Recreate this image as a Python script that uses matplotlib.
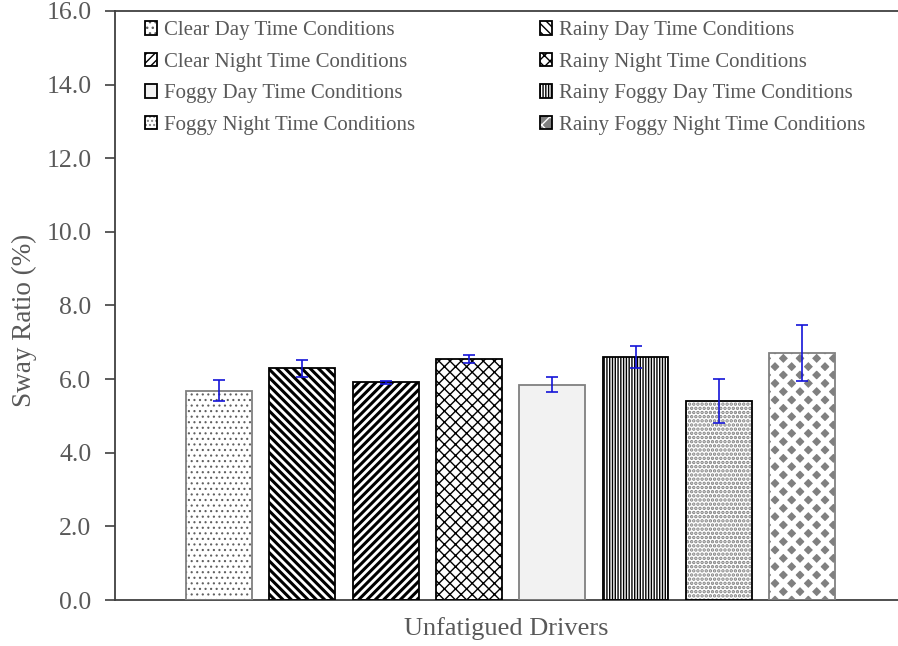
#sway ratio of unfatigued drivers under different weather/light conditions

import numpy
import matplotlib
matplotlib.use('Agg')
import matplotlib.pyplot as plt
from matplotlib.patches import Patch

# data
conditions = ['Clear Day Time Conditions', 'Rainy Day Time Conditions',
              'Clear Night Time Conditions', 'Rainy Night Time Conditions',
              'Foggy Day Time Conditions', 'Rainy Foggy Day Time Conditions',
              'Foggy Night Time Conditions', 'Rainy Foggy Night Time Conditions']
sway_ratio = [5.69, 6.29, 5.91, 6.55, 5.85, 6.61, 5.40, 6.71]
sway_err = [0.28, 0.23, 0.04, 0.10, 0.20, 0.30, 0.60, 0.76]
group_label = 'Unfatigued Drivers'
y_ticks = [0, 2, 4, 6, 8, 10, 12, 14, 16]

# bar styling: (face colour, hatch, hatch colour, hatch width, outline colour)
styles = [
    ('white', '...', '#606060', 0.8, '#808080'),
    ('white', '\\\\\\\\', 'black', 2.2, 'black'),
    ('white', '////', 'black', 2.2, 'black'),
    ('white', 'xxx', 'black', 1.0, 'black'),
    ('#f2f2f2', '', '#f2f2f2', 0.0, '#808080'),
    ('white', '||||||', 'black', 1.0, 'black'),
    ('white', '....', '#808080', 1.7, 'black'),
    ('#808080', 'xx', 'white', 3.8, '#808080'),
]

text_grey = '#595959'
plt.rcParams['font.family'] = ['Liberation Serif', 'DejaVu Serif']
plt.rcParams['text.color'] = text_grey

fig = plt.figure(figsize=(8.98, 6.46), dpi=100)
ax = fig.add_axes([0.128, 0.0712, 0.872, 0.9118])

x = numpy.arange(len(conditions))
width = 0.79
handles = []
for i, (fc, hatch, hc, hlw, ec) in enumerate(styles):
    with plt.rc_context({'hatch.linewidth': hlw if hlw > 0 else 1.0}):
        b = ax.bar(x[i], sway_ratio[i], width, color=fc, hatch=hatch,
                   edgecolor=hc, linewidth=0, zorder=2)
        h1 = Patch(facecolor=fc, hatch=hatch, edgecolor=hc, linewidth=0)
    if hasattr(b[0], 'set_hatch_linewidth') and hlw > 0:
        b[0].set_hatch_linewidth(hlw)
        h1.set_hatch_linewidth(hlw)
    ax.bar(x[i], sway_ratio[i], width, fill=False, edgecolor=ec,
           linewidth=1.3, zorder=3)
    h2 = Patch(fill=False, edgecolor='black', linewidth=1.3)
    handles.append((h1, h2))

ax.errorbar(x, sway_ratio, yerr=sway_err, fmt='none', ecolor='#1414d8',
            elinewidth=1.2, capsize=4, capthick=1.2, zorder=4)

ax.set_xlim(-1.25, 8.15)
ax.set_ylim(0, 16)
ax.set_yticks(y_ticks)
ax.set_yticklabels(['%.1f' % t for t in y_ticks])
ax.set_xticks([])
ax.set_xlabel(group_label, fontsize=19, color=text_grey, labelpad=12)
ax.set_ylabel('Sway Ratio (%)', fontsize=19.5, color=text_grey)
ax.yaxis.set_label_coords(-0.1, 0.475)
ax.tick_params(axis='y', labelsize=18.5, labelcolor=text_grey, color='#404040',
               length=7, width=1.2, pad=10)

ax.spines['right'].set_visible(False)
for s in ['left', 'bottom', 'top']:
    ax.spines[s].set_color('#404040')
    ax.spines[s].set_linewidth(1.3)

# legend is filled row by row in the reference
order = [0, 2, 4, 6, 1, 3, 5, 7]
ax.legend([handles[k] for k in order], [conditions[k] for k in order],
          ncol=2, loc='upper left', bbox_to_anchor=(0.025, 1.0),
          frameon=False, fontsize=15, handlelength=0.6, handleheight=0.6,
          handletextpad=0.3, columnspacing=6.0, labelspacing=0.6,
          borderaxespad=0.1)

plt.savefig('out.png', dpi=100)
